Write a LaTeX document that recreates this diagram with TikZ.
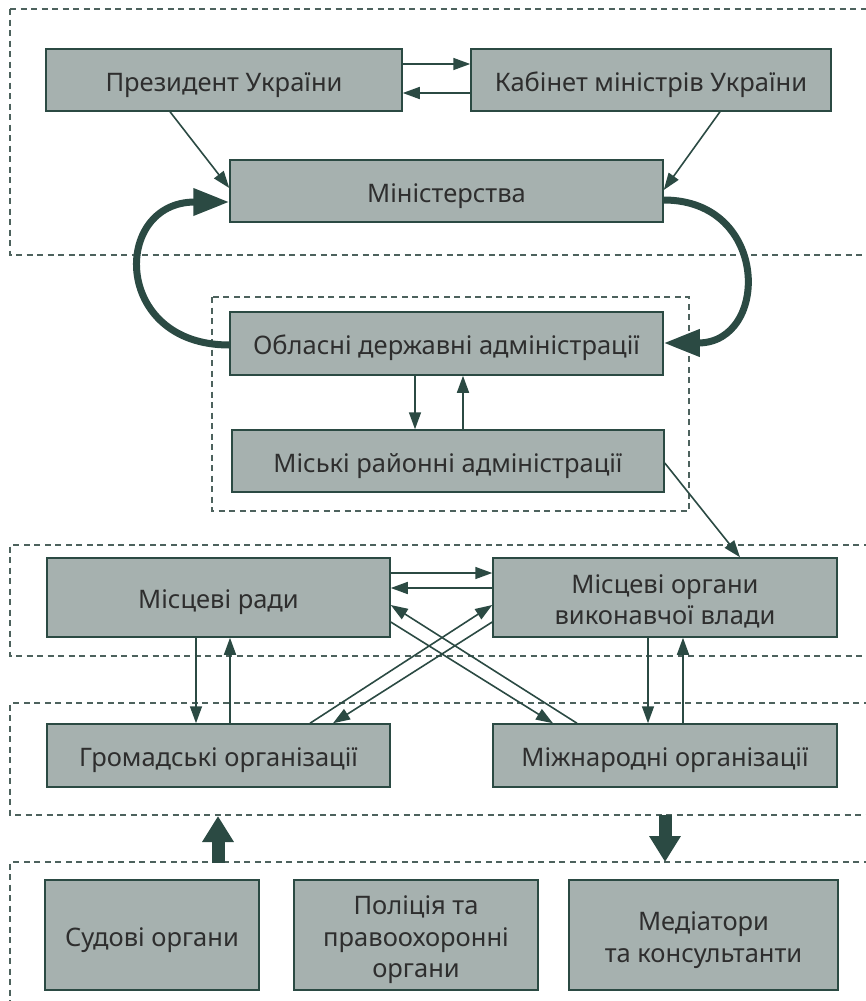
\documentclass[tikz,border=0pt]{standalone}
\usepackage{fontspec}
\setmainfont{Noto Sans}
\usetikzlibrary{arrows.meta}
\definecolor{boxfill}{HTML}{A6B1AF}
\definecolor{dk}{HTML}{2B4A43}
\definecolor{txt}{HTML}{2E2E2E}
\definecolor{dashc}{HTML}{4D625D}
\begin{document}
\begin{tikzpicture}[x=1pt,y=-1pt,
  box/.style={draw=dk, line width=1.5pt, fill=boxfill, text=txt, align=center,
    font=\fontsize{25.5}{31.5}\selectfont, inner sep=0pt,
    execute at begin node={\rule{0pt}{30pt}},
    execute at end node={\rule[-8pt]{0pt}{8pt}}},
  multiline/.style={execute at begin node={\rule{0pt}{#1}}},
  region/.style={draw=dashc, dash pattern=on 6pt off 4.5pt, line width=1.2pt},
  arr/.style={draw=dk, line width=1.6pt, -{Triangle[length=17pt,width=12pt]}},
  bigcurve/.style={draw=dk, line width=7pt, -{Triangle[length=36pt,width=26pt]}},
  blockarr/.style={draw=dk, line width=13pt, -{Triangle[length=26pt,width=30pt]}}]
\useasboundingbox (0,0) rectangle (866,1001);
% regions
\draw[region] (10,9) -- (880,9);
\draw[region] (10,9) -- (10,255) -- (880,255);
\draw[region] (212,297) rectangle (689,511);
\draw[region] (880,545) -- (10,545) -- (10,656) -- (880,656);
\draw[region] (880,703) -- (10,703) -- (10,815) -- (880,815);
\draw[region] (880,862) -- (10,862) -- (10,1010);
% boxes
\node[box, minimum width=356pt, minimum height=62pt] (pres) at (224,80) {Президент України};
\node[box, minimum width=360pt, minimum height=62pt] (cab) at (651,80) {Кабінет міністрів України};
\node[box, minimum width=433pt, minimum height=62pt] (min) at (446.5,191) {Міністерства};
\node[box, minimum width=433pt, minimum height=63pt] (obl) at (446.5,343.5) {Обласні державні адміністрації};
\node[box, minimum width=432pt, minimum height=62pt] (mis) at (448,461) {Міські районні адміністрації};
\node[box, minimum width=343pt, minimum height=79pt] (rady) at (218.5,597.5) {Місцеві ради};
\node[box, multiline=62pt, minimum width=344pt, minimum height=79pt] (org) at (665,597.5) {Місцеві органи\\виконавчої влади};
\node[box, minimum width=343pt, minimum height=63pt] (grom) at (218.5,755.5) {Громадські організації};
\node[box, minimum width=344pt, minimum height=63pt] (mizh) at (665,755.5) {Міжнародні організації};
\node[box, minimum width=214pt, minimum height=110pt] (sud) at (152,935) {Судові органи};
\node[box, multiline=93.5pt, minimum width=244pt, minimum height=110pt] (pol) at (416,935) {Поліція та\\правоохоронні\\органи};
\node[box, multiline=62pt, minimum width=269pt, minimum height=110pt] (med) at (703.5,935) {Медіатори\\та консультанти};
% connectors
\draw[arr] (pres.east |- 0,64) -- (cab.west |- 0,64);
\draw[arr] (cab.west |- 0,93) -- (pres.east |- 0,93);
\draw[arr] (pres.south -| 170,0) -- (min.west |- 0,188);
\draw[arr] (cab.south -| 720,0) -- (min.east |- 0,190);
\draw[bigcurve] (obl.west |- 0,345) .. controls (112,345) and (112,202) .. (min.west |- 0,202);
\draw[bigcurve] (min.east |- 0,200) .. controls (770,200) and (770,343) .. (obl.east |- 0,343);
\draw[arr] (obl.south -| 415,0) -- (mis.north -| 415,0);
\draw[arr] (mis.north -| 463,0) -- (obl.south -| 463,0);
\draw[arr] (mis.east |- 0,463) -- (org.north -| 740,0);
\draw[arr] (rady.east |- 0,573) -- (org.west |- 0,573);
\draw[arr] (org.west |- 0,588) -- (rady.east |- 0,588);
\draw[arr] (grom.north -| 310,0) -- (org.west |- 0,605);
\draw[arr] (org.west |- 0,622) -- (grom.north -| 333,0);
\draw[arr] (rady.east |- 0,622) -- (mizh.north -| 553,0);
\draw[arr] (mizh.north -| 577,0) -- (rady.east |- 0,605);
\draw[arr] (rady.south -| 196,0) -- (grom.north -| 196,0);
\draw[arr] (grom.north -| 230,0) -- (rady.south -| 230,0);
\draw[arr] (org.south -| 648,0) -- (mizh.north -| 648,0);
\draw[arr] (mizh.north -| 683,0) -- (org.south -| 683,0);
\coordinate (upbot) at (218,863);
\coordinate (uptop) at (218,816);
\coordinate (dntop) at (665,815);
\coordinate (dnbot) at (665,862);
\draw[blockarr] (upbot) -- (uptop);
\draw[blockarr] (dntop) -- (dnbot);
\end{tikzpicture}
\end{document}
